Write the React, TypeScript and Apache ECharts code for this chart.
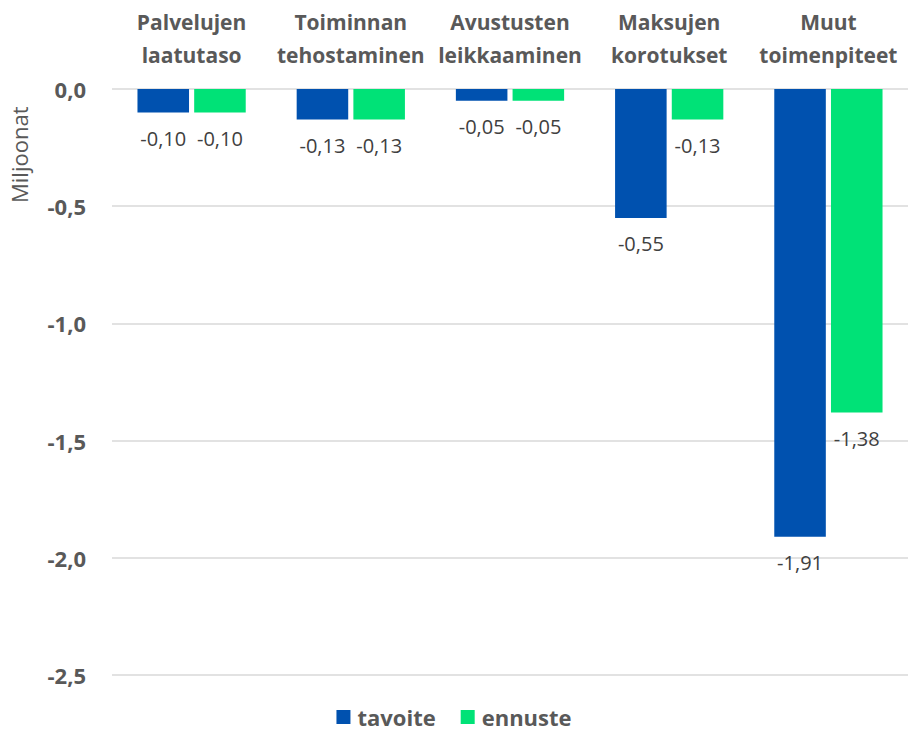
import React, { useEffect, useRef } from "react";
import * as echarts from "echarts";

const categories = ["Palvelujen\nlaatutaso", "Toiminnan\ntehostaminen", "Avustusten\nleikkaaminen", "Maksujen\nkorotukset", "Muut\ntoimenpiteet"];
const tavoite = [-0.1, -0.13, -0.05, -0.55, -1.91];
const ennuste = [-0.1, -0.13, -0.05, -0.13, -1.38];
const seriesNames = ["tavoite", "ennuste"];
const yMin = -2.5;
const yMax = 0;
const yInterval = 0.5;
const yAxisName = "Miljoonat";

const FONT = "'Open Sans', sans-serif";

export default function App() {
  const ref = useRef<HTMLDivElement>(null);
  useEffect(() => {
    if (!ref.current) return;
    const chart = echarts.init(ref.current, undefined, { renderer: "svg" });
    const fmt2 = (v: number) => v.toFixed(2).replace(".", ",");
    const labelCfg = {
      show: true,
      position: "bottom" as const,
      distance: 16,
      color: "#404040",
      fontSize: 20,
      fontFamily: FONT,
      formatter: (p: any) => fmt2(p.value),
    };
    chart.setOption({
      animation: false,
      textStyle: { fontFamily: FONT },
      grid: { left: 112, right: -4, top: 89, bottom: 62, containLabel: false },
      legend: {
        bottom: 4,
        left: "center",
        itemWidth: 14,
        itemHeight: 14,
        itemGap: 25,
        icon: "rect",
        textStyle: { fontSize: 22, fontWeight: "bold", color: "#595959", fontFamily: FONT, padding: [0, 0, 0, 2] },
        data: seriesNames,
      },
      graphic: [
        {
          type: "text",
          x: 8,
          y: 203,
          rotation: Math.PI / 2,
          style: { text: yAxisName, fontSize: 22, fill: "#595959", fontFamily: FONT },
        },
      ],
      xAxis: {
        type: "category",
        position: "top",
        data: categories,
        axisLine: { show: false },
        axisTick: { show: false },
        axisLabel: {
          margin: 18,
          fontSize: 21,
          fontWeight: "bold",
          color: "#595959",
          lineHeight: 33,
          fontFamily: FONT,
          interval: 0,
        },
      },
      yAxis: {
        type: "value",
        min: yMin,
        max: yMax,
        interval: yInterval,
        axisLine: { show: false },
        axisTick: { show: false },
        splitLine: { lineStyle: { color: "#D9D9D9", width: 1.5 } },
        axisLabel: {
          margin: 26,
          fontSize: 22,
          fontWeight: "bold",
          color: "#595959",
          fontFamily: FONT,
          formatter: (v: number) => v.toFixed(1).replace(".", ","),
        },
      },
      series: [
        {
          name: seriesNames[0],
          type: "bar",
          data: tavoite,
          itemStyle: { color: "#0051AF" },
          barGap: "10%",
          barCategoryGap: "32%",
          label: labelCfg,
        },
        {
          name: seriesNames[1],
          type: "bar",
          data: ennuste,
          itemStyle: { color: "#00E277" },
          barGap: "10%",
          barCategoryGap: "32%",
          label: labelCfg,
        },
      ],
    });
    return () => chart.dispose();
  }, []);
  return (
    <div
      ref={ref}
      style={{ position: "fixed", left: 0, top: 0, width: 908, height: 737, background: "#fff" }}
    />
  );
}
